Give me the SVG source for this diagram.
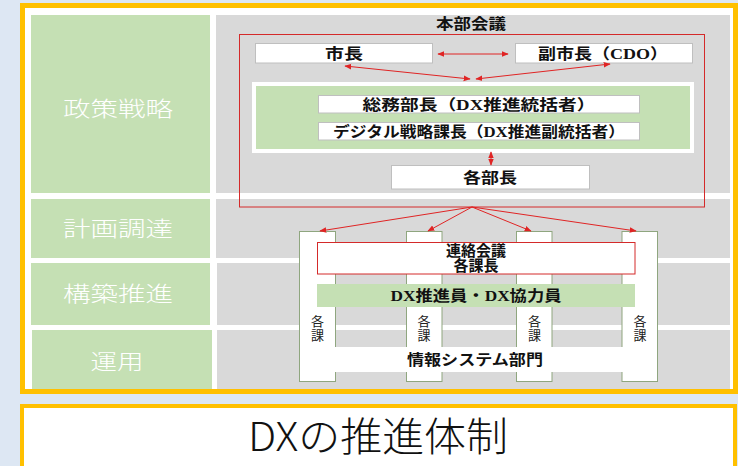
<svg xmlns="http://www.w3.org/2000/svg" width="738" height="466" viewBox="0 0 738 466">
<defs>
<marker id="ah" viewBox="0 0 10 10" refX="9" refY="5" markerWidth="7" markerHeight="7" markerUnits="userSpaceOnUse" orient="auto-start-reverse">
<path d="M0,1 L10,5 L0,9 z" fill="#e02424"/>
</marker>
<style>
.lab{fill:#c5e0b4}
.gry{fill:#d9d9d9}
.lbl{font-family:"Noto Sans CJK JP","Noto Sans",sans-serif;font-size:21px;font-weight:300;fill:#ffffff;text-anchor:middle}
.box{fill:#ffffff;stroke:#bfbfbf;stroke-width:1}
.col{fill:#ffffff;stroke:#8fa67f;stroke-width:1}
.t{font-family:"Liberation Serif","Noto Sans CJK JP",serif;font-size:15px;font-weight:bold;fill:#111;text-anchor:middle}
.v{font-family:"Noto Sans CJK JP",sans-serif;font-size:13px;fill:#222;text-anchor:middle;writing-mode:vertical-rl;letter-spacing:0.5px}
.red{fill:none;stroke:#d42a2a;stroke-width:1}
.arr{fill:none;stroke:#e02424;stroke-width:1;marker-start:url(#ah);marker-end:url(#ah)}
.arr1{fill:none;stroke:#e02424;stroke-width:1;marker-end:url(#ah)}
</style>
</defs>
<rect x="0" y="0" width="738" height="466" fill="#dde7f3"/>
<g id="frame">
<rect x="22.5" y="5.5" width="713" height="386" fill="#ffffff" stroke="#ffc000" stroke-width="5"/>
</g>
<g id="rows">
<rect class="lab" x="31" y="15" width="179" height="178"/>
<rect class="gry" x="216" y="15" width="514" height="178"/>
<rect class="lab" x="31" y="199" width="179" height="59"/>
<rect class="gry" x="216" y="199" width="514" height="59"/>
<rect class="lab" x="31" y="263" width="179" height="62"/>
<rect class="gry" x="217" y="263" width="513" height="62"/>
<rect class="lab" x="32" y="330" width="180" height="59"/>
<rect class="gry" x="217" y="330" width="513" height="59"/>
<text class="lbl" x="118" y="116" textLength="110" lengthAdjust="spacingAndGlyphs">政策戦略</text>
<text class="lbl" x="118" y="236" textLength="110" lengthAdjust="spacingAndGlyphs">計画調達</text>
<text class="lbl" x="118" y="301" textLength="110" lengthAdjust="spacingAndGlyphs">構築推進</text>
<text class="lbl" x="117" y="369" textLength="53" lengthAdjust="spacingAndGlyphs">運用</text>
</g>
<g id="honbu">
<rect class="red" x="239.5" y="34.5" width="465" height="172.5"/>
<text class="t" x="471" y="29" font-size="12" textLength="70" lengthAdjust="spacingAndGlyphs">本部会議</text>
</g>
<g id="shicho">
<rect class="box" x="255.5" y="43.5" width="177" height="19.5"/>
<text class="t" x="344" y="59" textLength="38" lengthAdjust="spacingAndGlyphs">市長</text>
</g>
<g id="fukushicho">
<rect class="box" x="515.5" y="43.5" width="177" height="19.5"/>
<text class="t" x="603" y="59" textLength="130" lengthAdjust="spacingAndGlyphs">副市長（CDO）</text>
</g>
<g id="soumu-group">
<rect x="252" y="82" width="442" height="71" fill="#ffffff"/>
<rect x="256" y="86" width="434" height="63" fill="#c5e0b4"/>
</g>
<g id="soumu">
<rect class="box" x="318.5" y="95.5" width="321" height="17.5"/>
<text class="t" x="479" y="109.5" textLength="233" lengthAdjust="spacingAndGlyphs">総務部長（DX推進統括者）</text>
</g>
<g id="digital">
<rect class="box" x="318.5" y="122.5" width="321" height="17.5"/>
<text class="t" x="479" y="136.5" font-size="14" textLength="292" lengthAdjust="spacingAndGlyphs">デジタル戦略課長（DX推進副統括者）</text>
</g>
<g id="kakubucho">
<rect class="box" x="391.5" y="165.5" width="198" height="23.5"/>
<text class="t" x="490" y="182.5" textLength="54" lengthAdjust="spacingAndGlyphs">各部長</text>
</g>
<g id="columns">
<rect class="col" x="299.5" y="231.5" width="36" height="150"/>
<rect class="col" x="406.5" y="231.5" width="35.5" height="150"/>
<rect class="col" x="516.5" y="231.5" width="35.5" height="150"/>
<rect class="col" x="622" y="231.5" width="35.5" height="150"/>
<text class="v" x="317.5" y="328.5">各課</text>
<text class="v" x="424" y="328.5">各課</text>
<text class="v" x="534.5" y="328.5">各課</text>
<text class="v" x="640" y="328.5">各課</text>
</g>
<g id="renraku">
<rect x="317.5" y="242.5" width="317.5" height="31.5" fill="#ffffff" stroke="#d42a2a" stroke-width="1"/>
<text class="t" x="476" y="256" font-size="14">連絡会議<tspan x="476" dy="15">各課長</tspan></text>
</g>
<g id="dxsuishin">
<rect x="317" y="284" width="318" height="23" fill="#c5e0b4"/>
<text class="t" x="476" y="301" font-weight="normal" textLength="171" lengthAdjust="spacingAndGlyphs">DX推進員・DX協力員</text>
</g>
<g id="johosystem">
<rect x="317" y="347" width="318" height="25" fill="#ffffff"/>
<text class="t" x="475" y="365" textLength="136" lengthAdjust="spacingAndGlyphs">情報システム部門</text>
</g>
<g id="connectors">
<line class="arr" x1="438" y1="54" x2="508" y2="54"/>
<line class="arr" x1="345" y1="66" x2="470" y2="79"/>
<line class="arr" x1="476" y1="79" x2="610" y2="64"/>
<line class="arr" x1="491" y1="152" x2="491" y2="165"/>
<line class="arr1" x1="472" y1="207" x2="320" y2="231"/>
<line class="arr1" x1="472" y1="207" x2="428" y2="231"/>
<line class="arr1" x1="472" y1="207" x2="531" y2="231"/>
<line class="arr1" x1="472" y1="207" x2="636" y2="231"/>
</g>
<g id="title">
<rect x="22" y="406" width="713" height="70" fill="#ffffff" stroke="#ffc000" stroke-width="4"/>
<text x="378" y="451" font-family="Noto Sans CJK JP, Noto Sans, sans-serif" font-size="40" font-weight="300" fill="#111" text-anchor="middle" textLength="260" lengthAdjust="spacingAndGlyphs">DXの推進体制</text>
</g>
</svg>
